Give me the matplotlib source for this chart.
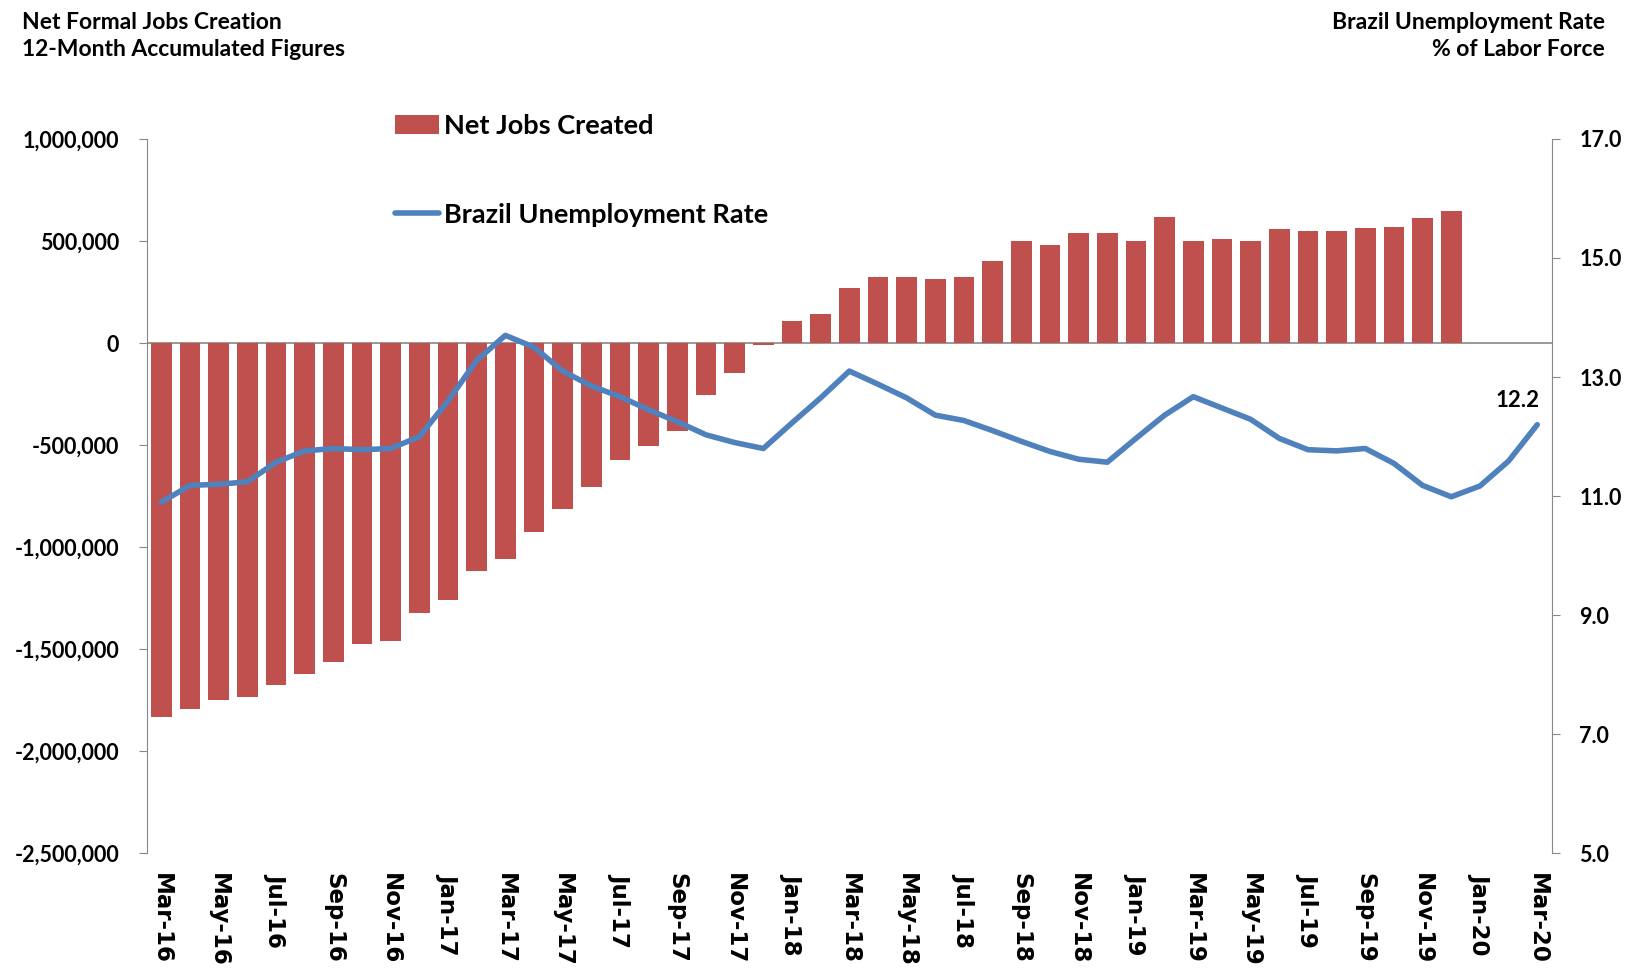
import numpy as np
import matplotlib
matplotlib.use("Agg")
import matplotlib.pyplot as plt
import matplotlib.ticker as mticker
from matplotlib.patches import Patch
from matplotlib.lines import Line2D

# monthly periods, Mar-16 .. Mar-20
months = ["Mar-16", "Apr-16", "May-16", "Jun-16", "Jul-16", "Aug-16", "Sep-16", "Oct-16",
          "Nov-16", "Dec-16", "Jan-17", "Feb-17", "Mar-17", "Apr-17", "May-17", "Jun-17",
          "Jul-17", "Aug-17", "Sep-17", "Oct-17", "Nov-17", "Dec-17", "Jan-18", "Feb-18",
          "Mar-18", "Apr-18", "May-18", "Jun-18", "Jul-18", "Aug-18", "Sep-18", "Oct-18",
          "Nov-18", "Dec-18", "Jan-19", "Feb-19", "Mar-19", "Apr-19", "May-19", "Jun-19",
          "Jul-19", "Aug-19", "Sep-19", "Oct-19", "Nov-19", "Dec-19", "Jan-20", "Feb-20",
          "Mar-20"]

# net formal jobs, 12-month accumulated (no data yet for Jan-20 .. Mar-20)
net_jobs = [-1830000, -1790000, -1750000, -1735000, -1675000, -1620000, -1560000, -1475000,
            -1460000, -1320000, -1260000, -1115000, -1060000, -925000, -815000, -705000,
            -575000, -505000, -430000, -255000, -145000, -10000, 110000, 140000,
            270000, 325000, 325000, 315000, 325000, 400000, 500000, 480000,
            540000, 540000, 500000, 615000, 500000, 510000, 500000, 560000,
            550000, 550000, 565000, 570000, 610000, 645000, np.nan, np.nan,
            np.nan]

# unemployment rate, % of labor force
unemployment = [10.9, 11.18, 11.2, 11.24, 11.57, 11.76, 11.8, 11.78,
                11.8, 12.0, 12.6, 13.28, 13.7, 13.5, 13.1, 12.85,
                12.67, 12.45, 12.25, 12.03, 11.9, 11.8, 12.23, 12.65,
                13.1, 12.88, 12.65, 12.36, 12.27, 12.1, 11.92, 11.75,
                11.62, 11.57, 11.97, 12.36, 12.67, 12.48, 12.29, 11.97,
                11.78, 11.76, 11.8, 11.55, 11.18, 10.99, 11.17, 11.59,
                12.2]

left_ticks = [-2500000, -2000000, -1500000, -1000000, -500000, 0, 500000, 1000000]
right_ticks = [5.0, 7.0, 9.0, 11.0, 13.0, 15.0, 17.0]

red = "#C0504D"
blue = "#4F81BD"
tick_font = "Lato"

fig = plt.figure(figsize=(16.36, 9.68), dpi=100)
ax = fig.add_axes([0.0899, 0.1183, 0.8585, 0.7383])
ax2 = ax.twinx()

x = np.arange(len(months))
ax.bar(x, net_jobs, width=0.72, color=red, zorder=2)
ax.axhline(0, color="#888888", lw=1.2, zorder=1)
ax.set_ylim(-2500000, 1000000)
ax.set_xlim(-0.5, len(months) - 0.5)
ax.set_yticks(left_ticks)
ax.yaxis.set_major_formatter(mticker.FuncFormatter(lambda v, p: f"{int(v):,}"))

ax2.plot(x, unemployment, color=blue, lw=4, solid_joinstyle="round",
         solid_capstyle="round", zorder=3)
ax2.set_ylim(5, 17)
ax2.set_yticks(right_ticks)
ax2.yaxis.set_major_formatter(mticker.FormatStrFormatter("%.1f"))
ax2.annotate(f"{unemployment[-1]:.1f}", (x[-1], unemployment[-1]),
             xytext=(2, 10), textcoords="offset points", ha="right", va="bottom",
             fontsize=16, fontweight="bold", family=tick_font)

# x axis: every second month, rotated downward
ax.set_xticks(x[::2])
ax.set_xticklabels(months[::2], rotation=270, fontsize=16.5, fontweight="bold",
                   family="DejaVu Sans")
ax.tick_params(axis="x", length=0, pad=14)

for a in (ax, ax2):
    for s in ("top", "bottom"):
        a.spines[s].set_visible(False)
ax.spines["left"].set_color("#888888")
ax.spines["right"].set_visible(False)
ax2.spines["left"].set_visible(False)
ax2.spines["right"].set_color("#888888")
ax.tick_params(axis="y", length=6, color="#888888", pad=14)
ax2.tick_params(axis="y", length=6, color="#888888", pad=14)
for lbl in ax.get_yticklabels() + ax2.get_yticklabels():
    lbl.set_fontsize(15.5)
    lbl.set_fontweight("bold")
    lbl.set_family(tick_font)

handles = [Patch(facecolor=red, edgecolor="none"),
           Line2D([0], [0], color=blue, lw=4, solid_capstyle="round")]
ax.legend(handles, ["Net Jobs Created", "Brazil Unemployment Rate"],
          loc="upper left", bbox_to_anchor=(0.169, 1.05), frameon=False,
          prop={"family": tick_font, "weight": "bold", "size": 19.5},
          labelspacing=2.4, handlelength=1.6, handletextpad=0.2, borderaxespad=0)

fig.text(0.0135, 0.988, "Net Formal Jobs Creation\n12-Month Accumulated Figures",
         ha="left", va="top", fontsize=16.5, fontweight="bold", family=tick_font,
         linespacing=1.4)
fig.text(0.981, 0.988, "Brazil Unemployment Rate\n% of Labor Force",
         ha="right", va="top", fontsize=16.5, fontweight="bold", family=tick_font,
         linespacing=1.4, multialignment="right")

fig.savefig("out.png", dpi=100, facecolor="white")
